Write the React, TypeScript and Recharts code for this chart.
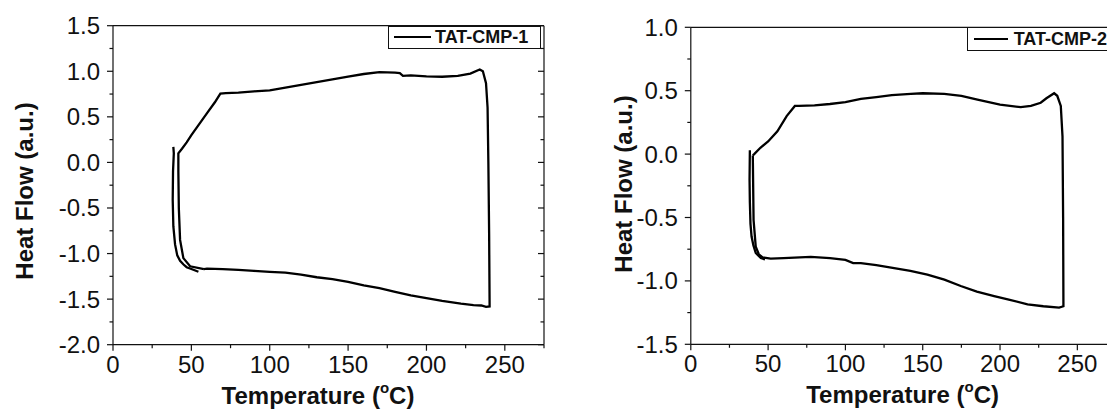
import React from "react";
import { LineChart, Line, XAxis, YAxis, Legend, Label } from "recharts";

const FONT = "'Liberation Sans', Arial, Helvetica, sans-serif";
const INK = "#111";

// TAT-CMP-1: main heating / cooling loop (temperature °C, heat flow a.u.)
const cmp1LoopT = [
  58, 49.2, 44.9, 42.8, 42, 41.7, 41.7, 44, 47, 50, 55, 60, 65, 68.5, 72, 80, 90, 100, 110, 120,
  130, 140, 150, 160, 170, 180, 183, 185, 190, 200, 210, 220, 228, 234, 236, 238, 239, 239.5, 240,
  240.3, 238, 235, 230, 222, 210, 200, 190, 180, 170, 160, 150, 140, 130, 120, 110, 100, 90, 80, 70,
  60, 58,
];
const cmp1LoopHF = [
  -1.17, -1.14, -1.05, -0.85, -0.5, -0.1, 0.1, 0.15, 0.22, 0.3, 0.42, 0.54, 0.66, 0.755, 0.76, 0.765,
  0.78, 0.79, 0.82, 0.85, 0.88, 0.91, 0.94, 0.97, 0.99, 0.985, 0.98, 0.95, 0.955, 0.945, 0.94, 0.95,
  0.975, 1.02, 1.0, 0.87, 0.6, 0.0, -0.8, -1.58, -1.585, -1.57, -1.565, -1.55, -1.52, -1.49, -1.46,
  -1.42, -1.38, -1.35, -1.31, -1.28, -1.26, -1.23, -1.21, -1.2, -1.19, -1.18, -1.17, -1.165, -1.17,
];
// TAT-CMP-1: outer strand at the start of the scan
const cmp1TailT = [38.5, 38.8, 38.3, 38.1, 38.5, 39.6, 41, 42.8, 45, 47, 50, 54.5];
const cmp1TailHF = [0.17, 0.1, -0.1, -0.41, -0.7, -0.9, -1.02, -1.08, -1.12, -1.15, -1.17, -1.2];

// TAT-CMP-2: main loop
const cmp2LoopT = [
  40.1, 40.6, 42, 44, 46.4, 51.7, 60, 77.6, 90, 100, 105, 110, 120, 131.5, 142, 153, 164, 174.6, 185,
  196.2, 205, 217.8, 228, 238.2, 241, 240.8, 240.4, 239.3, 237, 235, 230, 226.3, 220, 213.4, 200,
  185.4, 175, 163.9, 150, 142.3, 130, 120, 110, 100, 90, 80, 70, 67.3, 62, 56, 50, 45, 41, 40.1,
];
const cmp2LoopHF = [
  -0.01, -0.52, -0.73, -0.79, -0.815, -0.825, -0.82, -0.81, -0.82, -0.835, -0.86, -0.86, -0.875,
  -0.9, -0.92, -0.95, -0.99, -1.04, -1.085, -1.12, -1.145, -1.185, -1.2, -1.21, -1.2, -0.5, 0.14,
  0.38, 0.46, 0.48, 0.44, 0.405, 0.38, 0.37, 0.39, 0.43, 0.46, 0.475, 0.48, 0.475, 0.465, 0.45,
  0.435, 0.41, 0.395, 0.385, 0.38, 0.38, 0.3, 0.18, 0.1, 0.05, 0.0, -0.01,
];
// TAT-CMP-2: outer strand
const cmp2TailT = [38.2, 38.0, 38.2, 38.6, 39.3, 40.5, 42, 45.3, 48];
const cmp2TailHF = [0.03, -0.2, -0.38, -0.55, -0.65, -0.72, -0.78, -0.82, -0.83];

const tempTicks = [0, 25, 50, 75, 100, 125, 150, 175, 200, 225, 250, 275];
const tempLabels = [0, 50, 100, 150, 200, 250];
const hf1Ticks = [-2, -1.75, -1.5, -1.25, -1, -0.75, -0.5, -0.25, 0, 0.25, 0.5, 0.75, 1, 1.25, 1.5];
const hf1Labels = [-2, -1.5, -1, -0.5, 0, 0.5, 1, 1.5];
const hf2Ticks = [-1.5, -1.25, -1, -0.75, -0.5, -0.25, 0, 0.25, 0.5, 0.75, 1];
const hf2Labels = [-1.5, -1, -0.5, 0, 0.5, 1];

const toPoints = (t: number[], hf: number[]) => t.map((x, i) => ({ x, y: hf[i] }));

const MAJOR = 6;
const MINOR = 3.5;

function makeTick(side: "left" | "bottom" | "top" | "right", labels: number[], decimals: number) {
  return (props: any) => {
    const { x, y, payload } = props;
    const v = payload.value as number;
    const major = labels.some((l) => Math.abs(l - v) < 1e-9);
    const len = major ? MAJOR : MINOR;
    const txt = v.toFixed(decimals);
    if (side === "left") {
      return (
        <g>
          <line x1={x} x2={x - len} y1={y} y2={y} stroke={INK} strokeWidth={1.2} />
          {major && (
            <text x={x - 13} y={y} dy={8.5} textAnchor="end" fontSize={24} fontFamily={FONT} fill={INK}>
              {txt}
            </text>
          )}
        </g>
      );
    }
    if (side === "bottom") {
      return (
        <g>
          <line x1={x} x2={x} y1={y} y2={y + len} stroke={INK} strokeWidth={1.2} />
          {major && (
            <text x={x} y={y + 28} textAnchor="middle" fontSize={24} fontFamily={FONT} fill={INK}>
              {txt}
            </text>
          )}
        </g>
      );
    }
    if (side === "top") {
      return <line x1={x} x2={x} y1={y} y2={y + len} stroke={INK} strokeWidth={1.2} />;
    }
    return <line x1={x} x2={x - len} y1={y} y2={y} stroke={INK} strokeWidth={1.2} />;
  };
}

type Box = { left: number; top: number; w: number; h: number; lineX: number; lineW: number; textX: number };

function boxLegend(box: Box) {
  return (props: any) => {
    const item = (props.payload || []).find((p: any) => p.type !== "none");
    if (!item) return null;
    return (
      <div
        style={{
          width: box.w,
          height: box.h,
          border: `1px solid ${INK}`,
          boxSizing: "border-box",
          background: "#fff",
          position: "relative",
          fontFamily: FONT,
        }}
      >
        <span
          style={{
            position: "absolute",
            left: box.lineX,
            width: box.lineW,
            top: box.h / 2 - 2,
            height: 0,
            borderTop: `2.4px solid ${item.color}`,
          }}
        />
        <span
          style={{
            position: "absolute",
            left: box.textX,
            top: 0,
            lineHeight: `${box.h - 2}px`,
            fontSize: 18,
            fontWeight: "bold",
            color: INK,
            whiteSpace: "nowrap",
          }}
        >
          {item.value}
        </span>
      </div>
    );
  };
}

type PanelProps = {
  name: string;
  loop: { x: number; y: number }[];
  tail: { x: number; y: number }[];
  hfTicks: number[];
  hfLabels: number[];
  hfDomain: [number, number];
  width: number;
  margin: { top: number; right: number; bottom: number; left: number };
  yTitle: { x: number; y: number };
  xTitle: { x: number; y: number };
  legend: Box;
};

function Panel(p: PanelProps) {
  return (
    <LineChart width={p.width} height={410} margin={p.margin}>
      <XAxis
        xAxisId={0}
        dataKey="x"
        type="number"
        domain={[0, 275]}
        ticks={tempTicks}
        interval={0}
        tickSize={0}
        tickMargin={0}
        height={40}
        axisLine={{ stroke: INK, strokeWidth: 1.2 }}
        tickLine={false}
        tick={makeTick("bottom", tempLabels, 0)}
        allowDataOverflow
      >
        <Label
          content={() => (
            <text x={p.xTitle.x} y={p.xTitle.y} textAnchor="middle" fontSize={24} fontWeight="bold" fontFamily={FONT} fill={INK}>
              Temperature (<tspan fontSize={15} dy={-11}>o</tspan>
              <tspan dy={11}>C)</tspan>
            </text>
          )}
        />
      </XAxis>
      <XAxis
        xAxisId="top"
        orientation="top"
        type="number"
        domain={[0, 275]}
        ticks={tempTicks}
        interval={0}
        tickSize={0}
        tickMargin={0}
        height={8}
        axisLine={{ stroke: INK, strokeWidth: 1.2 }}
        tickLine={false}
        tick={makeTick("top", tempLabels, 0)}
        allowDataOverflow
      />
      <YAxis
        yAxisId={0}
        type="number"
        domain={p.hfDomain}
        ticks={p.hfTicks}
        interval={0}
        tickSize={0}
        tickMargin={0}
        width={60}
        axisLine={{ stroke: INK, strokeWidth: 1.2 }}
        tickLine={false}
        tick={makeTick("left", p.hfLabels, 1)}
        allowDataOverflow
      >
        <Label
          content={() => (
            <text
              x={p.yTitle.x}
              y={p.yTitle.y}
              transform={`rotate(-90 ${p.yTitle.x} ${p.yTitle.y})`}
              textAnchor="middle"
              dominantBaseline="central"
              fontSize={24}
              fontWeight="bold"
              fontFamily={FONT}
              fill={INK}
            >
              Heat Flow (a.u.)
            </text>
          )}
        />
      </YAxis>
      <YAxis
        yAxisId="right"
        orientation="right"
        type="number"
        domain={p.hfDomain}
        ticks={p.hfTicks}
        interval={0}
        tickSize={0}
        tickMargin={0}
        width={8}
        axisLine={{ stroke: INK, strokeWidth: 1.2 }}
        tickLine={false}
        tick={makeTick("right", p.hfLabels, 1)}
        allowDataOverflow
      />
      <Legend
        layout="vertical"
        align="center"
        verticalAlign="middle"
        content={boxLegend(p.legend)}
        wrapperStyle={{ left: p.legend.left, top: p.legend.top, width: p.legend.w, height: p.legend.h }}
      />
      <Line
        data={p.loop}
        dataKey="y"
        name={p.name}
        type="linear"
        stroke="#000"
        strokeWidth={2.3}
        dot={false}
        isAnimationActive={false}
      />
      <Line
        data={p.tail}
        dataKey="y"
        name=""
        legendType="none"
        type="linear"
        stroke="#000"
        strokeWidth={2.3}
        dot={false}
        isAnimationActive={false}
      />
    </LineChart>
  );
}

export default function App() {
  return (
    <div
      style={{
        position: "absolute",
        left: 0,
        top: 0,
        width: 1107,
        height: 410,
        overflow: "hidden",
        background: "#fff",
      }}
    >
      <div style={{ position: "absolute", left: 0, top: 0 }}>
        <Panel
          name="TAT-CMP-1"
          loop={toPoints(cmp1LoopT, cmp1LoopHF)}
          tail={toPoints(cmp1TailT, cmp1TailHF)}
          hfTicks={hf1Ticks}
          hfLabels={hf1Labels}
          hfDomain={[-2, 1.5]}
          width={560}
          margin={{ top: 17.7, right: 8, bottom: 25.3, left: 53 }}
          yTitle={{ x: 24, y: 191 }}
          xTitle={{ x: 318, y: 404 }}
          legend={{ left: 388, top: 25.7, w: 153, h: 23.6, lineX: 5, lineW: 37, textX: 46 }}
        />
      </div>
      <div style={{ position: "absolute", left: 560, top: 0 }}>
        <Panel
          name="TAT-CMP-2"
          loop={toPoints(cmp2LoopT, cmp2LoopHF)}
          tail={toPoints(cmp2TailT, cmp2TailHF)}
          hfTicks={hf2Ticks}
          hfLabels={hf2Labels}
          hfDomain={[-1.5, 1]}
          width={570}
          margin={{ top: 19.3, right: 6, bottom: 25.7, left: 70.8 }}
          yTitle={{ x: 63, y: 184 }}
          xTitle={{ x: 342.6, y: 403 }}
          legend={{ left: 406.7, top: 27.3, w: 150, h: 24, lineX: 6.6, lineW: 34, textX: 46 }}
        />
      </div>
    </div>
  );
}
